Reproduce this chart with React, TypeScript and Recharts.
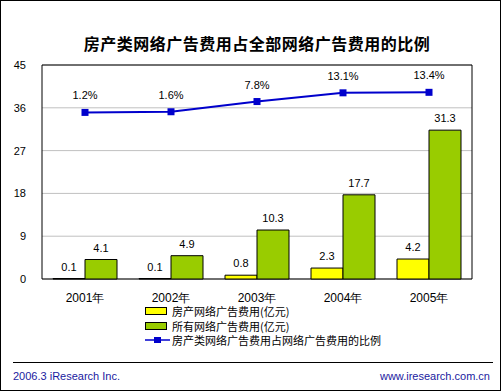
import React from "react";
import {
  ComposedChart,
  Bar,
  Line,
  XAxis,
  YAxis,
  CartesianGrid,
  ReferenceArea,
  LabelList,
  Legend,
} from "recharts";

const years = ["2001年", "2002年", "2003年", "2004年", "2005年"];
const realEstateSpend = [0.1, 0.1, 0.8, 2.3, 4.2];
const totalSpend = [4.1, 4.9, 10.3, 17.7, 31.3];
const sharePct = [1.2, 1.6, 7.8, 13.1, 13.4];
const yTicks = [0, 9, 18, 27, 36, 45];

const seriesNames = {
  re: "房产网络广告费用(亿元)",
  total: "所有网络广告费用(亿元)",
  share: "房产类网络广告费用占网络广告费用的比例",
};
const legendOrder = ["re", "total", "share"];

const data = years.map((y, i) => ({
  year: y,
  re: realEstateSpend[i],
  total: totalSpend[i],
  share: sharePct[i],
}));

const BLUE = "#0000cc";
const YELLOW = "#ffff00";
const GREEN = "#99cc00";
const FONT = "'Liberation Sans', Arial, sans-serif";
const CJK = "'Noto Sans CJK SC', sans-serif";

const renderLegend = (props: any) => {
  const payload = [...(props.payload || [])].sort(
    (a: any, b: any) => legendOrder.indexOf(a.dataKey) - legendOrder.indexOf(b.dataKey)
  );
  return (
    <div style={{ fontFamily: CJK, fontSize: 11, color: "#000", lineHeight: "14.5px" }}>
      {payload.map((p: any, i: number) => (
        <div key={i} style={{ display: "flex", alignItems: "center", height: 14.5 }}>
          <svg width={27} height={10}>
            {p.type === "line" ? (
              <g>
                <line x1={0} y1={5} x2={25} y2={5} stroke={BLUE} strokeWidth={1.5} />
                <rect x={9} y={2} width={7} height={6} fill={BLUE} />
              </g>
            ) : (
              <rect x={0.5} y={1.5} width={21} height={7} fill={p.color} stroke="#000" strokeWidth={1} />
            )}
          </svg>
          <span>{p.value}</span>
        </div>
      ))}
    </div>
  );
};

const SquareDot = (props: any) => {
  const { cx, cy, index } = props;
  if (cx == null || cy == null) return <g key={index} />;
  return <rect key={index} x={cx - 3.5} y={cy - 3.5} width={7} height={7} fill={BLUE} />;
};

export default function App() {
  return (
    <div
      style={{
        position: "absolute",
        left: 0,
        top: 0,
        width: 501,
        height: 391,
        boxSizing: "border-box",
        border: "1px solid #000",
        background: "#fff",
        overflow: "hidden",
      }}
    >
      <div
        style={{
          position: "absolute",
          left: 0,
          top: 31,
          width: 512,
          textAlign: "center",
          fontFamily: CJK,
          fontWeight: 700,
          fontSize: 16,
          letterSpacing: 0.5,
          lineHeight: "22px",
          color: "#000",
        }}
      >
        房产类网络广告费用占全部网络广告费用的比例
      </div>
      <div style={{ position: "absolute", left: -1, top: -1 }}>
        <ComposedChart
          width={501}
          height={391}
          data={data}
          margin={{ top: 65, right: 29, bottom: 82, left: 0 }}
          barGap={0}
        >
          <CartesianGrid vertical={false} stroke="#c0c0c0" yAxisId="left" />
          <XAxis
            dataKey="year"
            height={30}
            tickLine={false}
            axisLine={false}
            tickMargin={8}
            tick={{ fontSize: 12, fill: "#000", fontFamily: FONT }}
            interval={0}
          />
          <YAxis
            yAxisId="left"
            width={42}
            domain={[0, 45]}
            ticks={yTicks}
            tickLine={false}
            axisLine={false}
            tickMargin={10}
            tick={{ fontSize: 11, fill: "#000", fontFamily: FONT }}
          />
          <YAxis yAxisId="right" orientation="right" hide domain={[-100, 30]} />
          <ReferenceArea yAxisId="left" y1={0} y2={45} fill="none" stroke="#000" strokeWidth={1} ifOverflow="visible" />
          <Bar
            yAxisId="left"
            dataKey="re"
            name={seriesNames.re}
            fill={YELLOW}
            stroke="#000"
            strokeWidth={1}
            barSize={32}
            isAnimationActive={false}
          >
            <LabelList dataKey="re" position="top" offset={8} style={{ fontSize: 11, fill: "#000", fontFamily: FONT }} />
          </Bar>
          <Bar
            yAxisId="left"
            dataKey="total"
            name={seriesNames.total}
            fill={GREEN}
            stroke="#000"
            strokeWidth={1}
            barSize={32}
            isAnimationActive={false}
          >
            <LabelList dataKey="total" position="top" offset={8} style={{ fontSize: 11, fill: "#000", fontFamily: FONT }} />
          </Bar>
          <Line
            yAxisId="right"
            dataKey="share"
            name={seriesNames.share}
            stroke={BLUE}
            strokeWidth={2}
            dot={SquareDot}
            activeDot={false}
            isAnimationActive={false}
          >
            <LabelList
              dataKey="share"
              position="top"
              offset={13}
              formatter={(v: any) => `${v}%`}
              style={{ fontSize: 11, fill: "#000", fontFamily: FONT }}
            />
          </Line>
          <Legend
            layout="vertical"
            align="center"
            verticalAlign="middle"
            content={renderLegend}
            wrapperStyle={{ left: 145, top: 304, width: 260, height: 46 }}
          />
        </ComposedChart>
      </div>
      <div
        style={{
          position: "absolute",
          left: 12,
          top: 361,
          width: 480,
          height: 0,
          borderTop: "1px solid #000",
        }}
      />
      <div
        style={{
          position: "absolute",
          left: 12,
          top: 368,
          fontFamily: FONT,
          fontSize: 11,
          color: "#1a1aa0",
          lineHeight: "14px",
        }}
      >
        2006.3 iResearch Inc.
      </div>
      <div
        style={{
          position: "absolute",
          right: 10,
          top: 368,
          fontFamily: FONT,
          fontSize: 11,
          color: "#1a1aa0",
          lineHeight: "14px",
        }}
      >
        www.iresearch.com.cn
      </div>
    </div>
  );
}
